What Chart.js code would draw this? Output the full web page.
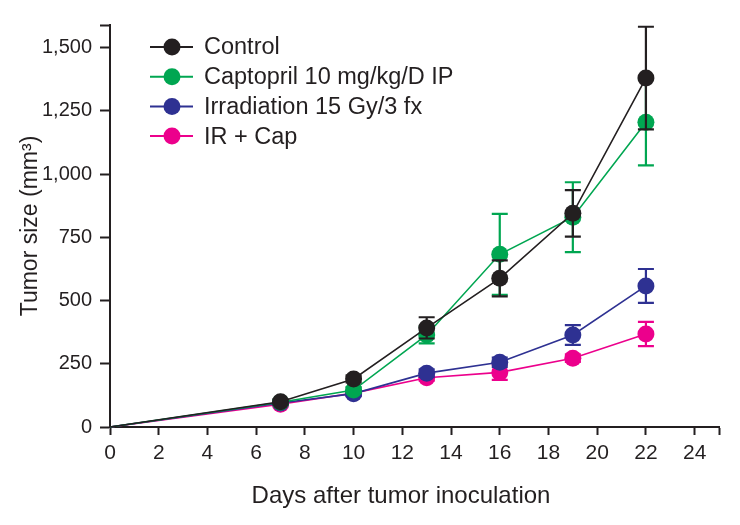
<!DOCTYPE html>
<html>
<head>
<meta charset="utf-8">
<script src="https://cdn.jsdelivr.net/npm/chart.js@4/dist/chart.umd.min.js"></script>
<style>
html,body{margin:0;padding:0;background:#fff;}
#wrap{width:740px;height:525px;}
</style>
</head>
<body>
<div id="wrap"><canvas id="c" width="740" height="525"></canvas></div>
<script>
const days = [0, 7, 10, 13, 16, 19, 22];
const seriesNames = ['Control', 'Captopril 10 mg/kg/D IP', 'Irradiation 15 Gy/3 fx', 'IR + Cap'];
const controlValues = [0, 100, 190, 392, 588, 845, 1380];
const controlErrors = [0, 10, 14, 42, 71, 92, 203];
const captoprilValues = [0, 98, 146, 364, 683, 830, 1205];
const captoprilErrors = [0, 8, 12, 33, 160, 138, 170];
const irradiationValues = [0, 95, 132, 213, 256, 364, 558];
const irradiationErrors = [0, 8, 10, 15, 18, 39, 67];
const irCapValues = [0, 90, 134, 195, 216, 272, 368];
const irCapErrors = [0, 8, 10, 12, 30, 15, 48];
const xTickLabels = [0, 2, 4, 6, 8, 10, 12, 14, 16, 18, 20, 22, 24];
const yTickLabels = [0, 250, 500, 750, 1000, 1250, 1500];
const xTitle = 'Days after tumor inoculation';
const yTitle = 'Tumor size (mm³)';

const colors = ['#231f20', '#00a651', '#2e3192', '#ec008c'];
const allValues = [controlValues, captoprilValues, irradiationValues, irCapValues];
const allErrors = [controlErrors, captoprilErrors, irradiationErrors, irCapErrors];
const FONT = '"Liberation Sans", Arial, sans-serif';

const datasets = seriesNames.map((name, i) => ({
  label: name,
  data: days.map((d, j) => ({x: d, y: allValues[i][j]})),
  errors: allErrors[i],
  borderColor: colors[i],
  backgroundColor: colors[i],
  pointBackgroundColor: colors[i],
  pointBorderColor: colors[i],
  borderWidth: 1.6,
  pointRadius: days.map(d => d === 0 ? 0 : 8.5),
  pointBorderWidth: 0,
  pointHoverRadius: 8.5,
  tension: 0,
  clip: false
}));

const errorBarPlugin = {
  id: 'errorBars',
  beforeDatasetDraw(chart, args) {
    const ds = chart.data.datasets[args.index];
    const meta = args.meta;
    const ys = chart.scales.y;
    const ctx = chart.ctx;
    ctx.save();
    ctx.strokeStyle = ds.borderColor;
    ctx.lineWidth = 2.2;
    meta.data.forEach((pt, j) => {
      const e = ds.errors[j];
      if (!e) return;
      const v = ds.data[j].y;
      const yTop = ys.getPixelForValue(v + e);
      const yBot = ys.getPixelForValue(v - e);
      const x = pt.x;
      ctx.beginPath();
      ctx.moveTo(x, yTop); ctx.lineTo(x, yBot);
      ctx.moveTo(x - 8, yTop); ctx.lineTo(x + 8, yTop);
      ctx.moveTo(x - 8, yBot); ctx.lineTo(x + 8, yBot);
      ctx.stroke();
    });
    ctx.restore();
  }
};

const legendPlugin = {
  id: 'insideLegend',
  afterDraw(chart) {
    const ctx = chart.ctx;
    ctx.save();
    const x0 = 150, x1 = 193, cx = 172, tx = 204, y0 = 47, dy = 29.7;
    ctx.font = '23.5px ' + FONT;
    ctx.textBaseline = 'middle';
    ctx.textAlign = 'left';
    seriesNames.forEach((name, i) => {
      const y = y0 + i * dy;
      ctx.strokeStyle = colors[i];
      ctx.lineWidth = 2;
      ctx.beginPath(); ctx.moveTo(x0, y); ctx.lineTo(x1, y); ctx.stroke();
      ctx.fillStyle = colors[i];
      ctx.beginPath(); ctx.arc(cx, y, 8.5, 0, Math.PI * 2); ctx.fill();
      ctx.fillStyle = '#231f20';
      ctx.fillText(name, tx, y + 1);
    });
    // x axis title
    ctx.font = '24px ' + FONT;
    ctx.textAlign = 'center';
    ctx.fillStyle = '#231f20';
    ctx.fillText(xTitle, 401, 496);
    ctx.restore();
  }
};

new Chart(document.getElementById('c'), {
  type: 'line',
  data: { datasets },
  plugins: [errorBarPlugin, legendPlugin],
  options: {
    responsive: false,
    animation: false,
    events: [],
    layout: { padding: { left: 0, right: 21, top: 25, bottom: 0 } },
    plugins: { legend: { display: false }, tooltip: { enabled: false } },
    scales: {
      x: {
        type: 'linear',
        min: 0, max: 25,
        afterFit(s) { s.height = 98; },
        afterBuildTicks(s) {
          s.ticks = xTickLabels.map(v => ({value: v})).concat([{value: 25}]);
        },
        ticks: {
          autoSkip: false,
          maxRotation: 0,
          padding: 6,
          color: '#231f20',
          font: { family: FONT, size: 21 },
          callback: v => (xTickLabels.includes(v) ? String(v) : '')
        },
        grid: { display: true, drawOnChartArea: false, drawTicks: true, tickLength: 8, tickWidth: 2, tickColor: '#231f20' },
        border: { display: true, color: '#231f20', width: 2 },
        title: { display: false }
      },
      y: {
        type: 'linear',
        min: 0, max: 1590,
        afterFit(s) { s.width = 110; },
        afterBuildTicks(s) {
          s.ticks = yTickLabels.map(v => ({value: v})).concat([{value: 1590}]);
        },
        ticks: {
          autoSkip: false,
          padding: 8,
          color: '#231f20',
          font: { family: FONT, size: 20 },
          callback: v => (yTickLabels.includes(v) ? v.toLocaleString('en-US') : '')
        },
        grid: { display: true, drawOnChartArea: false, drawTicks: true, tickLength: 10, tickWidth: 2, tickColor: '#231f20' },
        border: { display: true, color: '#231f20', width: 2 },
        title: {
          display: true,
          text: yTitle,
          color: '#231f20',
          font: { family: FONT, size: 23 },
          padding: { top: 17, bottom: 0 }
        }
      }
    }
  }
});
</script>
</body>
</html>
